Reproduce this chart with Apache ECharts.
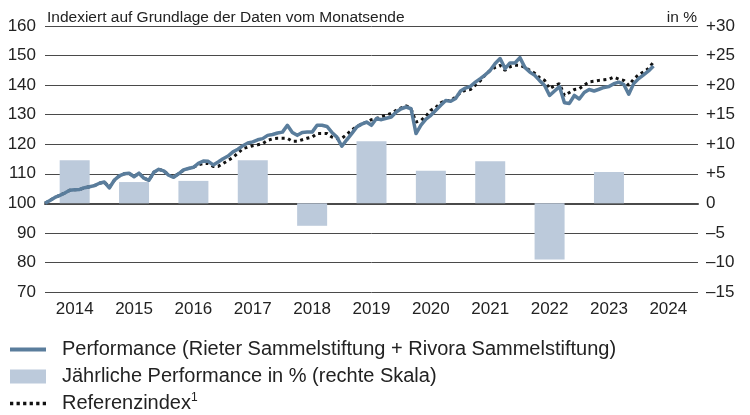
<!DOCTYPE html>
<html>
<head>
<meta charset="utf-8">
<script src="https://cdn.jsdelivr.net/npm/echarts@6/dist/echarts.min.js"></script>
<style>
html,body{margin:0;padding:0;background:#fff;}
#chart{width:750px;height:415px;}
</style>
</head>
<body>
<div id="chart"></div>
<script>
// Year categories (x axis labels)
const years = ['2014','2015','2016','2017','2018','2019','2020','2021','2022','2023','2024'];
// Annual performance in % (right scale)
const annualPerf = [7.3, 3.6, 3.8, 7.3, -3.8, 10.5, 5.5, 7.1, -9.5, 5.3, null];
// Monthly index values, month-end Dec 2013 (=100) to Mar 2024
const perfIndex = [
  100.0, 101.0, 102.0, 102.7, 103.5, 104.4, 104.6, 104.7, 105.3, 105.6, 106.0, 106.8,
  107.2, 105.2, 107.8, 109.3, 110.0, 110.2, 109.0, 110.2, 108.5, 107.8, 110.5, 111.5,
  111.0, 109.5, 108.8, 110.0, 111.3, 111.8, 112.2, 113.5, 114.3, 114.2, 113.0, 114.0,
  115.1, 116.0, 117.4, 118.3, 119.5, 120.4, 120.8, 121.5, 121.9, 123.0, 123.3, 123.8,
  124.1, 126.4, 124.0, 123.0, 124.0, 124.1, 124.1, 126.4, 126.4, 126.0, 124.0, 122.4,
  119.3, 121.5, 123.6, 125.8, 126.8, 127.5, 126.4, 128.7, 128.3, 128.8, 129.2, 130.9,
  132.0, 132.6, 132.0, 123.6, 126.5, 128.5, 129.8, 131.5, 133.2, 134.8, 134.5, 135.5,
  138.0, 139.0, 139.6, 141.0, 142.2, 143.5, 145.0, 147.3, 149.0, 145.6, 147.5, 147.5,
  149.3, 146.0, 144.4, 143.3, 141.5, 139.9, 136.5, 138.0, 139.5, 134.0, 133.8, 136.5,
  135.3, 137.5, 138.5, 138.0, 138.6, 139.2, 139.5, 140.5, 141.0, 140.2, 136.9, 140.5,
  142.2, 143.5, 144.8, 146.5
];
const refIndex = [
  100.0, 101.0, 102.0, 102.7, 103.5, 104.4, 104.6, 104.7, 105.3, 105.6, 106.0, 106.8,
  107.2, 105.4, 107.8, 109.2, 110.0, 110.2, 109.0, 110.2, 108.5, 107.8, 110.5, 111.5,
  111.0, 109.6, 109.0, 110.0, 111.2, 111.8, 112.2, 113.0, 113.5, 113.5, 112.5, 112.5,
  113.5, 114.5, 115.5, 117.0, 118.5, 119.0, 119.5, 119.8, 120.2, 121.3, 121.8, 122.0,
  122.0, 122.0, 121.0, 121.0, 121.5, 122.0, 122.4, 123.6, 123.6, 123.6, 122.4, 121.9,
  122.0, 123.3, 124.8, 126.0, 126.8, 127.5, 128.3, 128.7, 129.3, 129.8, 130.5, 131.5,
  132.3, 133.0, 132.0, 127.5, 128.0, 129.5, 131.5, 132.5, 134.0, 134.8, 134.8, 136.0,
  137.5, 138.3, 138.5, 140.0, 141.5, 143.5, 145.0, 146.0, 146.7, 145.0, 146.2, 146.7,
  146.7, 146.0, 145.0, 144.0, 142.5, 141.6, 138.8, 139.8, 140.5, 136.5, 137.5, 138.5,
  138.8, 140.0, 141.1, 141.3, 141.6, 141.8, 142.0, 142.7, 142.0, 141.6, 139.9, 142.0,
  143.5, 144.5, 145.6, 147.8
];

const FONT = '"Liberation Sans", Arial, sans-serif';
const TXT = '#222';
const GRID = '#4a4a4a';
const BLUE = '#5a7d9c';

const chart = echarts.init(document.getElementById('chart'), null, {renderer: 'canvas'});
const option = {
  animation: false,
  backgroundColor: '#fff',
  textStyle: {fontFamily: FONT},
  title: [
    {text: 'Indexiert auf Grundlage der Daten vom Monatsende', left: 47, top: 10, padding: 0,
     textStyle: {fontFamily: FONT, fontSize: 15.5, fontWeight: 'normal', color: TXT}},
    {text: 'in %', right: 53, top: 10, padding: 0,
     textStyle: {fontFamily: FONT, fontSize: 15.5, fontWeight: 'normal', color: TXT}}
  ],
  grid: {left: 45, right: 52, top: 26, bottom: 123, containLabel: false},
  legend: {
    orient: 'vertical', left: 10, top: 338, height: 90, padding: 0, itemGap: 4,
    itemWidth: 36, itemHeight: 14,
    textStyle: {fontFamily: FONT, fontSize: 20, color: TXT, lineHeight: 23, padding: [0, 0, 0, 11],
      rich: {sup: {fontSize: 12, verticalAlign: 'top', lineHeight: 14, color: TXT, fontFamily: FONT}}},
    formatter: function (name) {
      return name === 'Referenzindex' ? 'Referenzindex{sup|1}' : name;
    },
    data: [
      {name: 'Performance (Rieter Sammelstiftung + Rivora Sammelstiftung)',
       icon: 'path://M0,0H36V4H0Z', itemStyle: {color: BLUE}},
      {name: 'Jährliche Performance in % (rechte Skala)', icon: 'rect', itemStyle: {color: '#bccadb'}},
      {name: 'Referenzindex',
       icon: 'path://M0,0H3V3H0Z M6,0H9V3H6Z M12,0H15V3H12Z M18,0H21V3H18Z M24,0H27V3H24Z M30,0H33V3H30Z',
       itemStyle: {color: '#111'}}
    ]
  },
  xAxis: [
    {type: 'category', data: years, boundaryGap: true,
     axisLine: {show: true, lineStyle: {color: GRID, width: 2}},
     axisTick: {show: false},
     axisLabel: {fontFamily: FONT, fontSize: 17, color: TXT, margin: 9}},
    {type: 'value', min: 0, max: 132, show: false}
  ],
  yAxis: [
    {type: 'value', min: 70, max: 160, interval: 10,
     axisLine: {show: false}, axisTick: {show: false},
     axisLabel: {fontFamily: FONT, fontSize: 17, color: TXT, margin: 9},
     splitLine: {show: true, lineStyle: {color: GRID, width: 1}}},
    {type: 'value', min: -15, max: 30, interval: 5, position: 'right',
     axisLine: {show: false}, axisTick: {show: false},
     splitLine: {show: false},
     axisLabel: {fontFamily: FONT, fontSize: 17, color: TXT, margin: 8, align: 'left',
       formatter: function (v) { return v > 0 ? '+' + v : (v < 0 ? '\u2013' + Math.abs(v) : '0'); }}}
  ],
  series: [
    {name: 'Jährliche Performance in % (rechte Skala)', type: 'bar',
     xAxisIndex: 0, yAxisIndex: 1, data: annualPerf, barWidth: 30,
     itemStyle: {color: '#bccadb'}, z: 1},
    {name: 'Referenzindex', type: 'line', xAxisIndex: 1, yAxisIndex: 0,
     data: refIndex.map((v, i) => [i, v]), showSymbol: false, symbol: 'none',
     lineStyle: {color: '#111', width: 3, type: [3, 3.5], cap: 'butt'}, itemStyle: {color: '#111'}, z: 3},
    {name: 'Performance (Rieter Sammelstiftung + Rivora Sammelstiftung)', type: 'line',
     xAxisIndex: 1, yAxisIndex: 0,
     data: perfIndex.map((v, i) => [i, v]), showSymbol: false, symbol: 'none',
     lineStyle: {color: BLUE, width: 3.5, join: 'round'}, itemStyle: {color: BLUE}, z: 4}
  ]
};
chart.setOption(option);
</script>
</body>
</html>
